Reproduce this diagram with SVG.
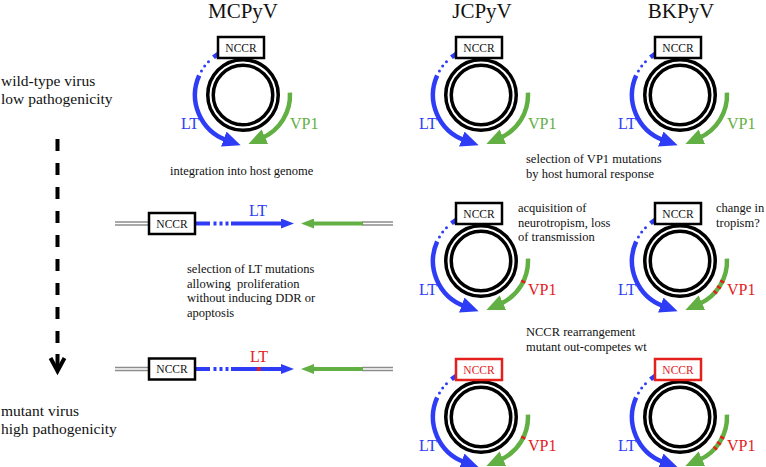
<svg xmlns="http://www.w3.org/2000/svg" xmlns:xlink="http://www.w3.org/1999/xlink" width="766" height="467" viewBox="0 0 766 467">
<style>
text{font-family:"Liberation Serif","Times New Roman",serif;fill:#111}
.title{font-size:21px;text-anchor:middle}
.side{font-size:15.5px}
.note{font-size:12.5px}
.lbl{font-size:16px}
.b{fill:#2e3df5}
.g{fill:#62b043}
.r{fill:#e3201b}
.box{fill:#fff;stroke:#000;stroke-width:2.5}
.boxr{fill:#fff;stroke:#e3201b;stroke-width:2.5}
.bt{font-size:11.5px;text-anchor:middle}
.ring{fill:#fff;stroke:#000;stroke-width:9}
.gap{fill:none;stroke:#fff;stroke-width:2}
.arcB{fill:none;stroke:#2e3df5;stroke-width:4.5}
.arcG{fill:none;stroke:#62b043;stroke-width:4.5}
.mut{fill:none;stroke:#e3201b;stroke-width:4.5}
.lin{stroke-width:4}
.gray{stroke:#8c8c8c;stroke-width:4.5}
.grayin{stroke:#fff;stroke-width:1.5}
</style>
<defs>
<marker id="ahB" markerUnits="userSpaceOnUse" markerWidth="18" markerHeight="16" viewBox="0 0 18 16" refX="3" refY="8" orient="auto"><path d="M0,0 L18,8 L0,16 z" fill="#2e3df5"/></marker>
<marker id="ahG" markerUnits="userSpaceOnUse" markerWidth="18" markerHeight="16" viewBox="0 0 18 16" refX="3" refY="8" orient="auto"><path d="M0,0 L18,8 L0,16 z" fill="#62b043"/></marker>
<marker id="lhB" markerUnits="userSpaceOnUse" markerWidth="13" markerHeight="10" viewBox="0 0 13 10" refX="1" refY="5" orient="auto"><path d="M0,0 L13,5 L0,10 z" fill="#2e3df5"/></marker>
<marker id="lhG" markerUnits="userSpaceOnUse" markerWidth="13" markerHeight="10" viewBox="0 0 13 10" refX="1" refY="5" orient="auto"><path d="M0,0 L13,5 L0,10 z" fill="#62b043"/></marker>
<g id="plasmid">
<circle class="ring" r="32.5"/>
<circle class="gap" r="32.5"/>
<path class="arcB" d="M -17.98 -44.51 A 48 48 0 0 0 -29.55 -37.83"/>
<circle class="b" cx="-34.53" cy="-33.35" r="1.5"/>
<circle class="b" cx="-38.33" cy="-28.89" r="1.5"/>
<circle class="b" cx="-41.57" cy="-24" r="1.5"/>
<path class="arcB" d="M -43.85 -19.52 A 48 48 0 0 0 -16.42 45.11" marker-end="url(#ahB)"/>
<path class="arcG" d="M 46.94 -2.46 A 47 47 0 0 1 19.12 42.94" marker-end="url(#ahG)"/>
</g>
<g id="linear">
<line class="gray" x1="0" y1="0" x2="34" y2="0"/>
<line class="grayin" x1="0" y1="0" x2="34" y2="0"/>
<line class="gray" x1="247" y1="0" x2="278" y2="0"/>
<line class="grayin" x1="247" y1="0" x2="278" y2="0"/>
<line class="arcB lin" x1="80" y1="0" x2="95" y2="0"/>
<line class="arcB lin" x1="98.5" y1="0" x2="113.5" y2="0" stroke-dasharray="3 3"/>
<line class="arcB lin" x1="116" y1="0" x2="167" y2="0" marker-end="url(#lhB)"/>
<line class="arcG lin" x1="248" y1="0" x2="198" y2="0" marker-end="url(#lhG)"/>
</g>
</defs>

<text class="title" x="243" y="18">MCPyV</text>
<text class="title" x="482" y="18">JCPyV</text>
<text class="title" x="681" y="18">BKPyV</text>

<text class="side" x="1" y="86">wild-type virus</text>
<text class="side" x="1" y="104">low pathogenicity</text>
<text class="side" x="1" y="416">mutant virus</text>
<text class="side" x="1" y="434">high pathogenicity</text>

<g id="connectors" stroke="#000" stroke-width="4" fill="none">
<line x1="57.5" y1="139" x2="57.5" y2="343" stroke-dasharray="12 12"/>
<line x1="57.5" y1="354" x2="57.5" y2="369"/>
<polyline points="50.5,358 57.5,371 64.5,358" stroke-linejoin="miter"/>
</g>

<g id="mcpyv-wt" transform="translate(243,95)">
<use xlink:href="#plasmid"/>
<rect class="box" x="-25" y="-58" width="46" height="21"/>
<text class="bt" x="-2" y="-43.5">NCCR</text>
<text class="lbl b" x="-62" y="34">LT</text>
<text class="lbl g" x="47" y="34">VP1</text>
</g>

<g id="jcpyv-wt" transform="translate(481,95)">
<use xlink:href="#plasmid"/>
<rect class="box" x="-25" y="-58" width="46" height="21"/>
<text class="bt" x="-2" y="-43.5">NCCR</text>
<text class="lbl b" x="-62" y="34">LT</text>
<text class="lbl g" x="47" y="34">VP1</text>
</g>

<g id="bkpyv-wt" transform="translate(680,95)">
<use xlink:href="#plasmid"/>
<rect class="box" x="-25" y="-58" width="46" height="21"/>
<text class="bt" x="-2" y="-43.5">NCCR</text>
<text class="lbl b" x="-62" y="34">LT</text>
<text class="lbl g" x="47" y="34">VP1</text>
</g>

<g id="mcpyv-integrated" transform="translate(115,223.5)">
<use xlink:href="#linear"/>
<rect class="box" x="34" y="-10.5" width="46" height="21"/>
<text class="bt" x="57" y="4">NCCR</text>
<text class="lbl b" x="134" y="-8">LT</text>
</g>

<g id="mcpyv-lt-mutant" transform="translate(115,369)">
<use xlink:href="#linear"/>
<rect class="box" x="34" y="-10.5" width="46" height="21"/>
<text class="bt" x="57" y="4">NCCR</text>
<line x1="142" y1="0" x2="145.5" y2="0" stroke="#e3201b" stroke-width="4"/>
<text class="lbl r" x="135" y="-7">LT</text>
</g>

<g id="jcpyv-vp1" transform="translate(481,261)">
<use xlink:href="#plasmid"/>
<path class="mut" d="M 42.77 19.49 A 47 47 0 0 1 41.69 21.70"/>
<rect class="box" x="-25" y="-58" width="46" height="21"/>
<text class="bt" x="-2" y="-43.5">NCCR</text>
<text class="lbl b" x="-62" y="34">LT</text>
<text class="lbl r" x="47" y="34">VP1</text>
</g>

<g id="bkpyv-vp1" transform="translate(680,261)">
<use xlink:href="#plasmid"/>
<path class="mut" d="M 42.77 19.49 A 47 47 0 0 1 41.69 21.70"/>
<path class="mut" d="M 39.64 25.25 A 47 47 0 0 1 38.26 27.29"/>
<path class="mut" d="M 36.00 30.21 A 47 47 0 0 1 34.37 32.05"/>
<rect class="box" x="-25" y="-58" width="46" height="21"/>
<text class="bt" x="-2" y="-43.5">NCCR</text>
<text class="lbl b" x="-62" y="34">LT</text>
<text class="lbl r" x="47" y="34">VP1</text>
</g>

<g id="jcpyv-nccr" transform="translate(481,417)">
<use xlink:href="#plasmid"/>
<path class="mut" d="M 42.77 19.49 A 47 47 0 0 1 41.69 21.70"/>
<rect class="boxr" x="-25" y="-58" width="46" height="21"/>
<text class="bt r" x="-2" y="-43.5">NCCR</text>
<text class="lbl b" x="-62" y="34">LT</text>
<text class="lbl r" x="47" y="34">VP1</text>
</g>

<g id="bkpyv-nccr" transform="translate(680,417)">
<use xlink:href="#plasmid"/>
<path class="mut" d="M 42.77 19.49 A 47 47 0 0 1 41.69 21.70"/>
<path class="mut" d="M 39.64 25.25 A 47 47 0 0 1 38.26 27.29"/>
<path class="mut" d="M 36.00 30.21 A 47 47 0 0 1 34.37 32.05"/>
<rect class="boxr" x="-25" y="-58" width="46" height="21"/>
<text class="bt r" x="-2" y="-43.5">NCCR</text>
<text class="lbl b" x="-62" y="34">LT</text>
<text class="lbl r" x="47" y="34">VP1</text>
</g>

<g id="notes">
<text class="note" x="170" y="175">integration into host genome</text>
<text class="note" x="526" y="163">selection of VP1 mutations</text>
<text class="note" x="526" y="177.5">by host humoral response</text>
<text class="note" x="518" y="212">acquisition of</text>
<text class="note" x="518" y="226.5">neurotropism, loss</text>
<text class="note" x="518" y="241">of transmission</text>
<text class="note" x="716" y="212">change in</text>
<text class="note" x="716" y="226.5">tropism?</text>
<text class="note" x="187" y="273">selection of LT mutations</text>
<text class="note" x="187" y="287.5" xml:space="preserve">allowing  proliferation</text>
<text class="note" x="187" y="302">without inducing DDR or</text>
<text class="note" x="187" y="316.5">apoptosis</text>
<text class="note" x="526" y="336">NCCR rearrangement</text>
<text class="note" x="526" y="351">mutant out-competes wt</text>
</g>
</svg>
